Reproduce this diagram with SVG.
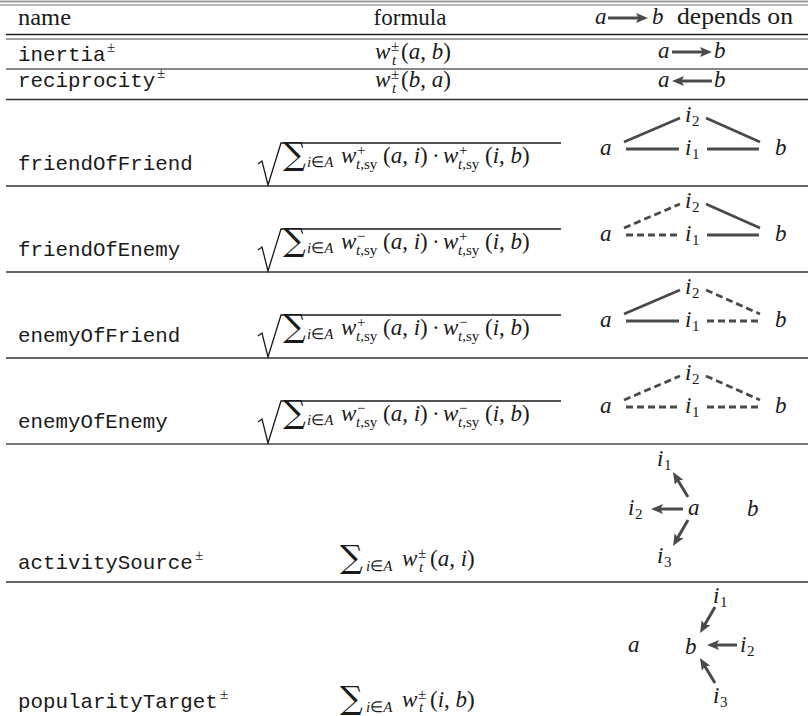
<svg xmlns="http://www.w3.org/2000/svg" width="808" height="716" viewBox="0 0 808 716" font-family="Liberation Serif, serif" font-size="23" fill="#1a1a1a">
<style>
.i { font-style: italic; }
.s { font-size: 15px; }
.e { stroke: #4a4a4a; stroke-width: 2.8; fill: none; }
.d { stroke-dasharray: 7 4; }
.a { stroke: #4a4a4a; stroke-width: 3; fill: none; marker-end: url(#ah); }
.rad { stroke: #1a1a1a; stroke-width: 1.3; fill: none; }
.rule { stroke: #333; stroke-width: 1.3; }
</style>
<defs>
<marker id="ah" viewBox="0 0 12 10" refX="4" refY="5" markerWidth="12" markerHeight="10" markerUnits="userSpaceOnUse" orient="auto">
<path d="M0,0 L12,5 L0,10 L2.5,5 z" fill="#4a4a4a"/>
</marker>
</defs>

<g id="rules">
<line x1="0" y1="1.5" x2="808" y2="1.5" stroke="#999" stroke-width="2"/>
<line x1="0" y1="5" x2="808" y2="5" stroke="#777" stroke-width="1.2"/>
<line x1="6" y1="34.5" x2="808" y2="34.5" stroke="#222" stroke-width="1.5"/>
<line x1="6" y1="39" x2="808" y2="39" stroke="#444" stroke-width="1.2"/>
<line x1="6" y1="69" x2="808" y2="69" stroke="#888" stroke-width="2"/>
<line x1="6" y1="99.5" x2="808" y2="99.5" class="rule"/>
<line x1="6" y1="186" x2="808" y2="186" class="rule"/>
<line x1="6" y1="272" x2="808" y2="272" class="rule"/>
<line x1="6" y1="358" x2="808" y2="358" class="rule"/>
<line x1="6" y1="444" x2="808" y2="444" stroke="#777" stroke-width="2"/>
<line x1="6" y1="582" x2="808" y2="582" class="rule"/>
</g>

<g id="header">
<text x="18" y="25" textLength="53" lengthAdjust="spacingAndGlyphs">name</text>
<text x="410" y="25" text-anchor="middle">formula</text>
<text x="595" y="24" class="i">a</text>
<text x="652" y="24" class="i">b</text>
<text x="677" y="24" textLength="116" lengthAdjust="spacingAndGlyphs">depends on</text>
</g>

<g id="row-inertia">
<text x="18" y="61" font-family="Liberation Mono, monospace" font-size="20.8">inertia</text>
<text x="107" y="52" class="s">±</text>
<text x="375" y="59" class="i">w</text>
<text x="391" y="51" class="s">±</text>
<text x="392" y="65" class="s i">t</text>
<text x="401" y="59">(<tspan class="i">a</tspan>, <tspan class="i">b</tspan>)</text>
<text x="658" y="58" class="i">a</text>
<text x="714" y="58" class="i">b</text>
</g>

<g id="row-reciprocity">
<text x="18" y="87" font-family="Liberation Mono, monospace" font-size="20.8">reciprocity</text>
<text x="157" y="78" class="s">±</text>
<text x="375" y="87" class="i">w</text>
<text x="391" y="79" class="s">±</text>
<text x="392" y="93" class="s i">t</text>
<text x="401" y="87">(<tspan class="i">b</tspan>, <tspan class="i">a</tspan>)</text>
<text x="658" y="87" class="i">a</text>
<text x="714" y="87" class="i">b</text>
</g>

<g id="row-friendOfFriend">
<text x="18" y="170" font-family="Liberation Mono, monospace" font-size="20.8">friendOfFriend</text>
<polyline class="rad" points="258,164 262,161 268,185 281,143 561,143"/>
<text x="283" y="165" font-family="DejaVu Serif, serif" font-size="32">∑</text>
<text x="307" y="167" class="s"><tspan class="i">i</tspan>∈<tspan class="i">A</tspan></text>
<text x="341" y="163" class="i">w</text>
<text x="357" y="155" class="s">+</text>
<text x="356" y="169" class="s"><tspan class="i">t</tspan>,sy</text>
<text x="383" y="163">(<tspan class="i">a</tspan>, <tspan class="i">i</tspan>)</text>
<text x="432" y="163">·</text>
<text x="443" y="163" class="i">w</text>
<text x="459" y="155" class="s">+</text>
<text x="458" y="169" class="s"><tspan class="i">t</tspan>,sy</text>
<text x="485" y="163">(<tspan class="i">i</tspan>, <tspan class="i">b</tspan>)</text>
<text x="600" y="155" class="i">a</text>
<text x="775" y="155" class="i">b</text>
<text x="685" y="155" class="i">i</text><text x="692" y="159" class="s">1</text>
<text x="685" y="122" class="i">i</text><text x="692" y="126" class="s">2</text>
</g>

<g id="row-friendOfEnemy">
<text x="18" y="256" font-family="Liberation Mono, monospace" font-size="20.8">friendOfEnemy</text>
<polyline class="rad" points="258,250 262,247 268,271 281,229 561,229"/>
<text x="283" y="251" font-family="DejaVu Serif, serif" font-size="32">∑</text>
<text x="307" y="253" class="s"><tspan class="i">i</tspan>∈<tspan class="i">A</tspan></text>
<text x="341" y="249" class="i">w</text>
<text x="357" y="241" class="s">−</text>
<text x="356" y="255" class="s"><tspan class="i">t</tspan>,sy</text>
<text x="383" y="249">(<tspan class="i">a</tspan>, <tspan class="i">i</tspan>)</text>
<text x="432" y="249">·</text>
<text x="443" y="249" class="i">w</text>
<text x="459" y="241" class="s">+</text>
<text x="458" y="255" class="s"><tspan class="i">t</tspan>,sy</text>
<text x="485" y="249">(<tspan class="i">i</tspan>, <tspan class="i">b</tspan>)</text>
<text x="600" y="241" class="i">a</text>
<text x="775" y="241" class="i">b</text>
<text x="685" y="241" class="i">i</text><text x="692" y="245" class="s">1</text>
<text x="685" y="208" class="i">i</text><text x="692" y="212" class="s">2</text>
</g>

<g id="row-enemyOfFriend">
<text x="18" y="342" font-family="Liberation Mono, monospace" font-size="20.8">enemyOfFriend</text>
<polyline class="rad" points="258,336 262,333 268,357 281,315 561,315"/>
<text x="283" y="337" font-family="DejaVu Serif, serif" font-size="32">∑</text>
<text x="307" y="339" class="s"><tspan class="i">i</tspan>∈<tspan class="i">A</tspan></text>
<text x="341" y="335" class="i">w</text>
<text x="357" y="327" class="s">+</text>
<text x="356" y="341" class="s"><tspan class="i">t</tspan>,sy</text>
<text x="383" y="335">(<tspan class="i">a</tspan>, <tspan class="i">i</tspan>)</text>
<text x="432" y="335">·</text>
<text x="443" y="335" class="i">w</text>
<text x="459" y="327" class="s">−</text>
<text x="458" y="341" class="s"><tspan class="i">t</tspan>,sy</text>
<text x="485" y="335">(<tspan class="i">i</tspan>, <tspan class="i">b</tspan>)</text>
<text x="600" y="327" class="i">a</text>
<text x="775" y="327" class="i">b</text>
<text x="685" y="327" class="i">i</text><text x="692" y="331" class="s">1</text>
<text x="685" y="294" class="i">i</text><text x="692" y="298" class="s">2</text>
</g>

<g id="row-enemyOfEnemy">
<text x="18" y="428" font-family="Liberation Mono, monospace" font-size="20.8">enemyOfEnemy</text>
<polyline class="rad" points="258,422 262,419 268,443 281,401 561,401"/>
<text x="283" y="423" font-family="DejaVu Serif, serif" font-size="32">∑</text>
<text x="307" y="425" class="s"><tspan class="i">i</tspan>∈<tspan class="i">A</tspan></text>
<text x="341" y="421" class="i">w</text>
<text x="357" y="413" class="s">−</text>
<text x="356" y="427" class="s"><tspan class="i">t</tspan>,sy</text>
<text x="383" y="421">(<tspan class="i">a</tspan>, <tspan class="i">i</tspan>)</text>
<text x="432" y="421">·</text>
<text x="443" y="421" class="i">w</text>
<text x="459" y="413" class="s">−</text>
<text x="458" y="427" class="s"><tspan class="i">t</tspan>,sy</text>
<text x="485" y="421">(<tspan class="i">i</tspan>, <tspan class="i">b</tspan>)</text>
<text x="600" y="413" class="i">a</text>
<text x="775" y="413" class="i">b</text>
<text x="685" y="413" class="i">i</text><text x="692" y="417" class="s">1</text>
<text x="685" y="380" class="i">i</text><text x="692" y="384" class="s">2</text>
</g>

<g id="row-activitySource">
<text x="18" y="569" font-family="Liberation Mono, monospace" font-size="20.8">activitySource</text>
<text x="195" y="560" class="s">±</text>
<text x="340" y="568" font-family="DejaVu Serif, serif" font-size="32">∑</text>
<text x="366" y="571" class="s"><tspan class="i">i</tspan>∈<tspan class="i">A</tspan></text>
<text x="402" y="566" class="i">w</text>
<text x="418" y="558" class="s">±</text>
<text x="419" y="572" class="s i">t</text>
<text x="430" y="566">(<tspan class="i">a</tspan>, <tspan class="i">i</tspan>)</text>
<text x="657" y="466" class="i">i</text><text x="664" y="470" class="s">1</text>
<text x="628" y="515" class="i">i</text><text x="635" y="519" class="s">2</text>
<text x="657" y="563" class="i">i</text><text x="664" y="567" class="s">3</text>
<text x="688" y="515" class="i">a</text>
<text x="747" y="516" class="i">b</text>
</g>

<g id="row-popularityTarget">
<text x="18" y="708" font-family="Liberation Mono, monospace" font-size="20.8">popularityTarget</text>
<text x="220" y="699" class="s">±</text>
<text x="340" y="709" font-family="DejaVu Serif, serif" font-size="32">∑</text>
<text x="366" y="712" class="s"><tspan class="i">i</tspan>∈<tspan class="i">A</tspan></text>
<text x="402" y="707" class="i">w</text>
<text x="418" y="699" class="s">±</text>
<text x="419" y="712" class="s i">t</text>
<text x="430" y="707">(<tspan class="i">i</tspan>, <tspan class="i">b</tspan>)</text>
<text x="713" y="603" class="i">i</text><text x="720" y="607" class="s">1</text>
<text x="740" y="652" class="i">i</text><text x="747" y="656" class="s">2</text>
<text x="713" y="703" class="i">i</text><text x="720" y="707" class="s">3</text>
<text x="628" y="652" class="i">a</text>
<text x="685" y="654" class="i">b</text>
</g>

<g id="connectors">
<line class="a" x1="608" y1="18" x2="640" y2="18"/>
<line class="a" x1="672" y1="52" x2="704" y2="52"/>
<line class="a" x1="712" y1="81" x2="680" y2="81"/>

<line class="e" x1="624" y1="142" x2="680" y2="118"/>
<line class="e" x1="706" y1="118" x2="760" y2="142"/>
<line class="e" x1="626" y1="149" x2="679" y2="149"/>
<line class="e" x1="707" y1="149" x2="759" y2="149"/>

<line class="e d" x1="624" y1="228" x2="680" y2="204"/>
<line class="e" x1="706" y1="204" x2="760" y2="228"/>
<line class="e d" x1="626" y1="235" x2="679" y2="235"/>
<line class="e" x1="707" y1="235" x2="759" y2="235"/>

<line class="e" x1="624" y1="314" x2="680" y2="290"/>
<line class="e d" x1="706" y1="290" x2="760" y2="314"/>
<line class="e" x1="626" y1="321" x2="679" y2="321"/>
<line class="e d" x1="707" y1="321" x2="759" y2="321"/>

<line class="e d" x1="624" y1="400" x2="680" y2="376"/>
<line class="e d" x1="706" y1="376" x2="760" y2="400"/>
<line class="e d" x1="626" y1="407" x2="679" y2="407"/>
<line class="e d" x1="707" y1="407" x2="759" y2="407"/>

<line class="a" x1="688" y1="497" x2="677.1" y2="478.9"/>
<line class="a" x1="683" y1="509" x2="659" y2="509"/>
<line class="a" x1="688" y1="520" x2="677" y2="539.1"/>

<line class="a" x1="715" y1="607" x2="704" y2="626.1"/>
<line class="a" x1="737" y1="645" x2="715" y2="645"/>
<line class="a" x1="715" y1="683" x2="704.1" y2="664.9"/>
</g>
</svg>
